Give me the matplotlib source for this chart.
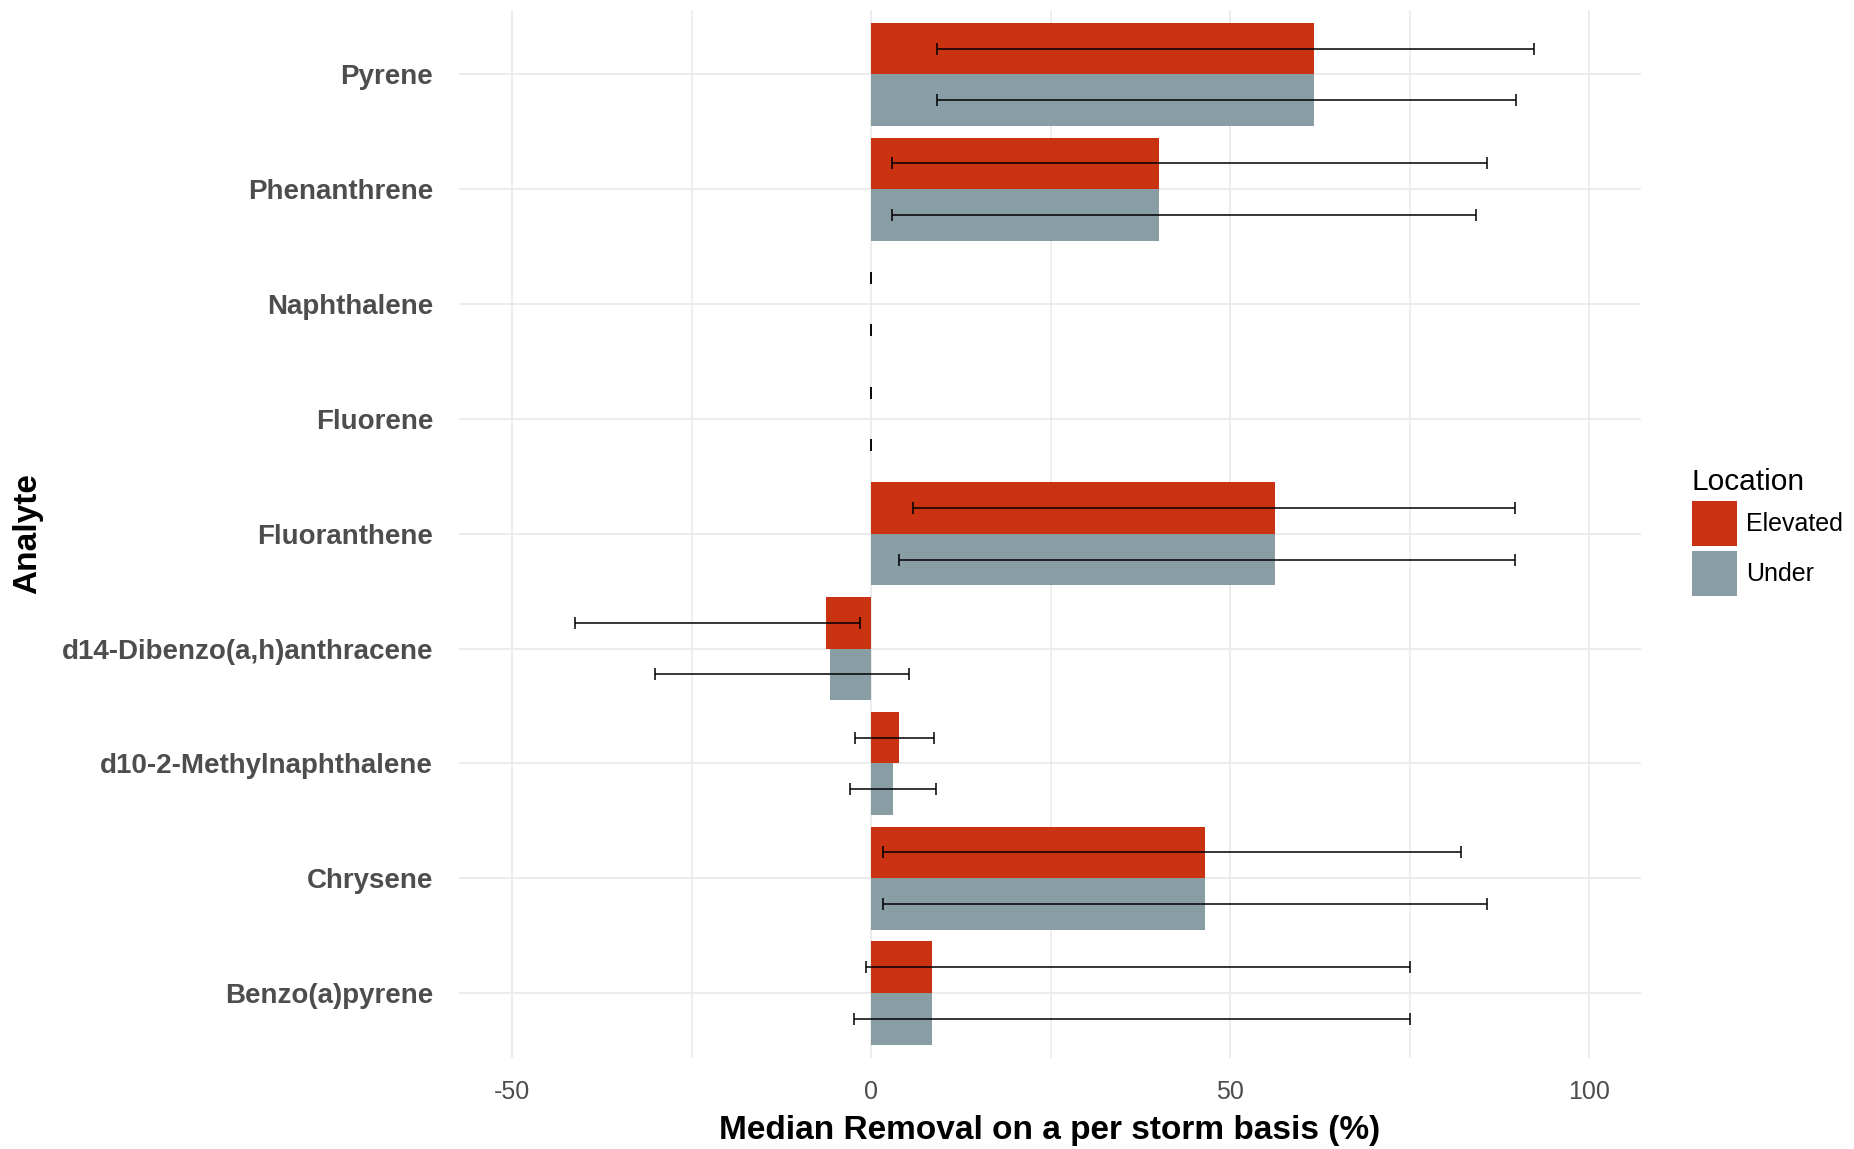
import numpy as np
import matplotlib
matplotlib.use('Agg')
import matplotlib.pyplot as plt
from matplotlib.patches import Patch

# analytes, bottom to top as in the figure
analytes = ['Benzo(a)pyrene', 'Chrysene', 'd10-2-Methylnaphthalene',
            'd14-Dibenzo(a,h)anthracene', 'Fluoranthene', 'Fluorene',
            'Naphthalene', 'Phenanthrene', 'Pyrene']

# median removal (%) per location
elevated_med = [8.5, 46.5, 3.9, -6.3, 56.2, 0.0, 0.0, 40.1, 61.7]
under_med = [8.5, 46.5, 3.0, -5.7, 56.2, 0.0, 0.0, 40.1, 61.7]

# error bar limits
elevated_lo = [-0.7, 1.7, -2.2, -41.2, 5.8, 0.0, 0.0, 2.9, 9.1]
elevated_hi = [75.0, 82.2, 8.8, -1.5, 89.6, 0.0, 0.0, 85.8, 92.3]
under_lo = [-2.4, 1.7, -3.0, -30.1, 3.85, 0.0, 0.0, 2.9, 9.1]
under_hi = [75.0, 85.7, 9.05, 5.25, 89.6, 0.0, 0.0, 84.2, 89.8]

locations = ['Elevated', 'Under']
colors = {'Elevated': '#C93312', 'Under': '#899DA4'}
xticks = [-50, 0, 50, 100]

plt.rcParams['font.family'] = ['Liberation Sans', 'DejaVu Sans']

fig = plt.figure(figsize=(18.54, 11.49), dpi=100)
ax = fig.add_axes([0.2476, 0.0792, 0.8851 - 0.2476, 0.9917 - 0.0792])

y = np.arange(len(analytes))
h = 0.45

series = [
    ('Elevated', elevated_med, elevated_lo, elevated_hi, y + h / 2),
    ('Under', under_med, under_lo, under_hi, y - h / 2),
]
for name, med, lo, hi, pos in series:
    med = np.array(med)
    lo = np.array(lo)
    hi = np.array(hi)
    ax.barh(pos, med, height=h, color=colors[name], linewidth=0, zorder=2)
    # ggplot style errorbars: from lo to hi, centred on the median bar
    ax.errorbar((lo + hi) / 2, pos, xerr=(hi - lo) / 2, fmt='none',
                ecolor='black', elinewidth=1.1, capsize=4.4, capthick=1.1,
                zorder=3)

ax.set_xlim(-57.4, 107.2)
ax.set_ylim(-0.565, len(analytes) - 1 + 0.565)

ax.set_xticks(xticks)
ax.set_xticklabels([str(t) for t in xticks])
ax.set_xticks([-25, 25, 75], minor=True)
ax.set_yticks(y)
ax.set_yticklabels(analytes, fontweight='bold')

ax.set_axisbelow(True)
ax.grid(which='major', axis='both', color='#EBEBEB', linewidth=1.3)
ax.grid(which='minor', axis='x', color='#EBEBEB', linewidth=1.1)
for s in ax.spines.values():
    s.set_visible(False)
ax.tick_params(which='both', length=0)
ax.tick_params(axis='y', pad=18.7, labelsize=20, labelcolor='#4D4D4D')
ax.tick_params(axis='x', pad=15.5, labelsize=18, labelcolor='#4D4D4D')

ax.set_xlabel('Median Removal on a per storm basis (%)', fontsize=24,
              fontweight='bold', va='center')
ax.xaxis.set_label_coords(0.5, -0.0687)
ax.set_ylabel('Analyte', fontsize=24, fontweight='bold', va='center')
ax.yaxis.set_label_coords(-0.3646, 0.5)

handles = [Patch(facecolor=colors[n], edgecolor='none', label=n) for n in locations]
leg = ax.legend(handles=handles, title='Location', loc='upper left',
                bbox_to_anchor=(0.9126, 0.593), bbox_transform=fig.transFigure,
                frameon=False, fontsize=18, title_fontsize=21.5,
                handlelength=1.8, handleheight=2.4, labelspacing=0.2,
                handletextpad=0.36, borderpad=0, borderaxespad=0,
                alignment='left')

fig.savefig('out.png', dpi=100, facecolor='white')
